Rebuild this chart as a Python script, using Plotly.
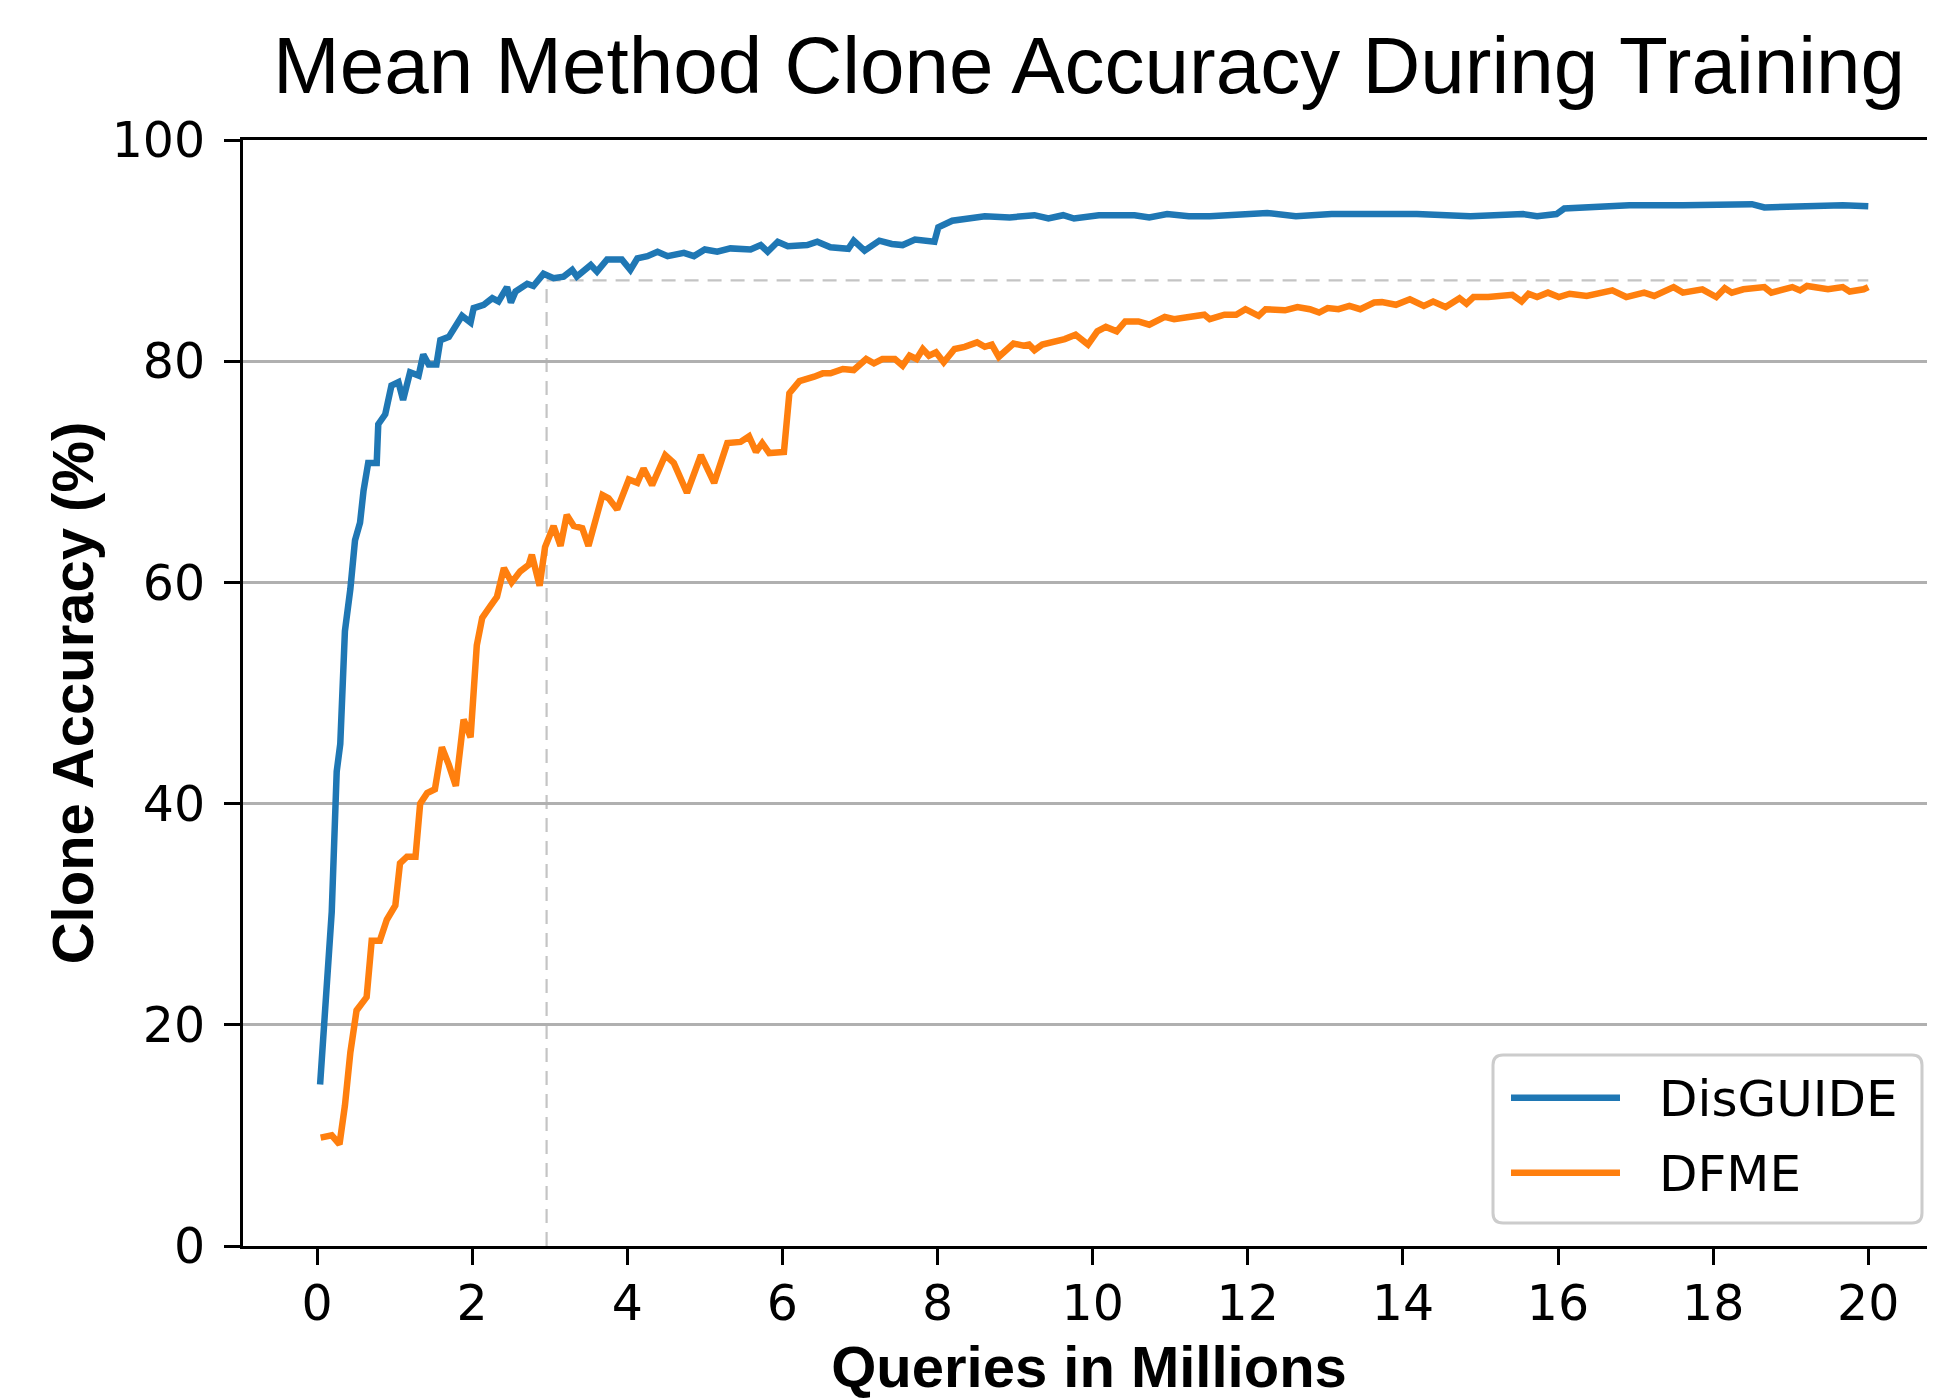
import plotly.graph_objects as go

# ---------------- data ----------------
disguide_x = [0.04, 0.125, 0.19, 0.254, 0.30, 0.36, 0.43, 0.49, 0.555, 0.60, 0.66, 0.77, 0.79, 0.88, 0.96,
              1.05, 1.11, 1.20, 1.31, 1.37, 1.44, 1.54, 1.59, 1.70, 1.78, 1.87, 1.98, 2.02, 2.15, 2.26, 2.34,
              2.45, 2.50, 2.56, 2.71, 2.79, 2.92, 3.05, 3.18, 3.29, 3.35, 3.53, 3.61, 3.74, 3.93, 4.04, 4.13,
              4.26, 4.39, 4.52, 4.73, 4.86, 5.0, 5.16, 5.33, 5.59, 5.72, 5.81, 5.94, 6.07, 6.32, 6.45, 6.62,
              6.85, 6.92, 7.06, 7.25, 7.41, 7.55, 7.71, 7.96, 8.01, 8.19, 8.61, 8.93, 9.25, 9.43, 9.62, 9.76,
              10.08, 10.54, 10.73, 10.96, 11.24, 11.51, 11.97, 12.25, 12.62, 13.08, 13.54, 14.18, 14.87, 15.32,
              15.55, 15.73, 15.98, 16.08, 16.47, 16.92, 17.61, 18.29, 18.50, 18.66, 19.21, 19.67, 20.0]
disguide_y = [14.6, 23.8, 30.2, 42.9, 45.4, 55.6, 59.4, 63.8, 65.4, 68.3, 70.8, 70.8, 74.3, 75.2, 77.8,
              78.1, 76.5, 79.0, 78.7, 80.6, 79.7, 79.7, 81.9, 82.2, 83.2, 84.1, 83.5, 84.8, 85.1, 85.7, 85.4,
              86.7, 85.3, 86.3, 87.0, 86.8, 87.9, 87.5, 87.65, 88.25, 87.65, 88.7, 88.1, 89.2, 89.2, 88.25, 89.3,
              89.5, 89.9, 89.5, 89.8, 89.5, 90.1, 89.9, 90.2, 90.1, 90.5, 89.9, 90.8, 90.4, 90.5, 90.8, 90.3,
              90.16, 90.9, 90.0, 90.9, 90.6, 90.5, 91.0, 90.8, 92.1, 92.7, 93.1, 93.0, 93.2, 92.9, 93.2, 92.9,
              93.2, 93.2, 93.0, 93.3, 93.1, 93.1, 93.3, 93.4, 93.1, 93.3, 93.3, 93.3, 93.1, 93.3,
              93.3, 93.1, 93.3, 93.8, 93.9, 94.1, 94.1, 94.1, 94.2, 93.9, 94.05, 94.1, 94.0]

dfme_x = [0.047, 0.19, 0.29, 0.36, 0.43, 0.51, 0.64, 0.705, 0.81, 0.90, 1.01, 1.07, 1.16, 1.27, 1.33, 1.42,
          1.52, 1.61, 1.70, 1.79, 1.89, 1.98, 2.06, 2.13, 2.23, 2.32, 2.41, 2.51, 2.62, 2.73, 2.77, 2.87, 2.94,
          3.05, 3.14, 3.22, 3.31, 3.42, 3.50, 3.68, 3.76, 3.87, 4.02, 4.13, 4.21, 4.32, 4.49, 4.60, 4.77, 4.95,
          5.12, 5.29, 5.46, 5.57, 5.66, 5.74, 5.83, 6.02, 6.09, 6.22, 6.41, 6.52, 6.62, 6.78, 6.92, 7.08, 7.18,
          7.29, 7.45, 7.55, 7.64, 7.73, 7.81, 7.89, 7.98, 8.08, 8.22, 8.35, 8.51, 8.61, 8.70, 8.79, 8.98, 9.11,
          9.18, 9.25, 9.35, 9.53, 9.64, 9.78, 9.94, 10.06, 10.17, 10.31, 10.42, 10.59, 10.73, 10.93, 11.05,
          11.24, 11.44, 11.51, 11.70, 11.85, 11.97, 12.14, 12.23, 12.48, 12.64, 12.80, 12.92, 13.03, 13.17,
          13.31, 13.45, 13.63, 13.73, 13.91, 14.09, 14.27, 14.39, 14.55, 14.73, 14.82, 14.91, 15.10, 15.41,
          15.53, 15.62, 15.73, 15.87, 16.01, 16.15, 16.37, 16.56, 16.70, 16.88, 17.11, 17.24, 17.38, 17.49,
          17.61, 17.74, 17.86, 18.04, 18.15, 18.24, 18.39, 18.66, 18.75, 19.02, 19.12, 19.21, 19.48, 19.67,
          19.76, 19.94, 20.0]
dfme_y = [9.8, 10.0, 9.2, 12.7, 17.5, 21.3, 22.5, 27.6, 27.6, 29.5, 30.8, 34.6, 35.2, 35.2, 40.0, 40.95,
          41.3, 45.1, 43.5, 41.6, 47.6, 46.0, 54.3, 56.8, 57.8, 58.7, 61.3, 60.0, 61.0, 61.6, 62.5, 59.7, 63.2,
          65.1, 63.3, 66.1, 65.1, 64.9, 63.3, 67.9, 67.6, 66.6, 69.3, 69.0, 70.3, 68.8, 71.5, 70.8, 68.1, 71.5,
          69.0, 72.6, 72.7, 73.2, 71.8, 72.6, 71.7, 71.8, 77.1, 78.2, 78.6, 78.9, 78.9, 79.3, 79.2, 80.2, 79.8,
          80.2, 80.2, 79.6, 80.5, 80.2, 81.1, 80.5, 80.8, 79.9, 81.1, 81.3, 81.7, 81.3, 81.5, 80.4, 81.6, 81.4,
          81.5, 81.0, 81.5, 81.8, 82.0, 82.4, 81.5, 82.7, 83.1, 82.7, 83.6, 83.6, 83.3, 84.0, 83.8,
          84.0, 84.2, 83.8, 84.2, 84.2, 84.7, 84.1, 84.7, 84.6, 84.9, 84.7, 84.4, 84.8, 84.7,
          85.0, 84.7, 85.3, 85.34, 85.1, 85.6, 85.0, 85.4, 84.9, 85.7, 85.2, 85.8, 85.8, 86.0,
          85.4, 86.1, 85.8, 86.2, 85.8, 86.1, 85.9, 86.2, 86.4, 85.8, 86.2, 85.9, 86.4, 86.7,
          86.2, 86.4, 86.5, 85.8, 86.6, 86.2, 86.5, 86.7, 86.2, 86.7, 86.4, 86.8, 86.5, 86.7,
          86.3, 86.5, 86.7]

series_names = ["DisGUIDE", "DFME"]
series_colors = ["#1f77b4", "#ff7f0e"]

# reference marker (dashed guide lines)
ref_x = 2.96
ref_y = 87.3
ref_x_end = 20.0

x_ticks = [0, 2, 4, 6, 8, 10, 12, 14, 16, 18, 20]
y_ticks = [0, 20, 40, 60, 80, 100]

title_text = "Mean Method Clone Accuracy During Training"
x_title = "Queries in Millions"
y_title = "Clone Accuracy (%)"

# ---------------- figure ----------------
OFF = 8  # page body margin
W, H = 1935 - OFF, 1399 - OFF
ML, MR, MT = 243 - OFF, 0, 140 - OFF
MB = H - (1246 - OFF)

fig = go.Figure()
for xs, ys, name, color in [(disguide_x, disguide_y, series_names[0], series_colors[0]),
                            (dfme_x, dfme_y, series_names[1], series_colors[1])]:
    fig.add_trace(go.Scatter(x=xs, y=ys, mode="lines", name=name,
                             line=dict(color=color, width=6.5), showlegend=False))

# dashed guide lines
guide = dict(color="#c4c4c4", width=2.2, dash="14px,9px")
fig.add_shape(type="line", xref="x", yref="y", x0=ref_x, x1=ref_x, y0=0, y1=ref_y, line=guide, layer="below")
fig.add_shape(type="line", xref="x", yref="y", x0=ref_x, x1=ref_x_end, y0=ref_y, y1=ref_y, line=guide, layer="below")

# ---------------- legend (matplotlib style) ----------------
pw, ph = W - ML - MR, H - MT - MB
def px2paper(px, py):
    return (px - OFF - ML) / pw, (H - MB - (py - OFF)) / ph

bx0, by1 = px2paper(1493, 1055)
bx1, by0 = px2paper(1922, 1223)
rx, ry = 10 / pw, 10 / ph
path = (f"M {bx0+rx},{by0} L {bx1-rx},{by0} Q {bx1},{by0} {bx1},{by0+ry} "
        f"L {bx1},{by1-ry} Q {bx1},{by1} {bx1-rx},{by1} L {bx0+rx},{by1} "
        f"Q {bx0},{by1} {bx0},{by1-ry} L {bx0},{by0+ry} Q {bx0},{by0} {bx0+rx},{by0} Z")
fig.add_shape(type="path", xref="paper", yref="paper", path=path,
              line=dict(color="#cccccc", width=3), fillcolor="rgba(255,255,255,0.85)", layer="above")
rows_py = [1097.7, 1172.7]
for name, color, rpy in zip(series_names, series_colors, rows_py):
    lx0, ly = px2paper(1511, rpy)
    lx1, _ = px2paper(1620, rpy)
    fig.add_shape(type="line", xref="paper", yref="paper", x0=lx0, x1=lx1, y0=ly, y1=ly,
                  line=dict(color=color, width=6.5), layer="above")
    tx, ty = px2paper(1657, rpy + 1)
    fig.add_annotation(xref="paper", yref="paper", x=tx, y=ty, text=name, showarrow=False,
                       xanchor="left", yanchor="middle",
                       font=dict(family="DejaVu Sans", size=50, color="black"))

axis_common = dict(showline=True, linecolor="black", linewidth=3, ticks="outside", ticklen=16,
                   tickwidth=3, tickcolor="black", zeroline=False, automargin=False,
                   tickfont=dict(family="DejaVu Sans", size=49, color="black"))

fig.update_layout(
    width=W, height=H,
    margin=dict(l=ML, r=MR, t=MT, b=MB, pad=0, autoexpand=False),
    paper_bgcolor="white", plot_bgcolor="white",
    showlegend=False,
    title=dict(text=title_text, x=1081 / W, xanchor="center", xref="container",
               y=1 - 29 / H, yanchor="top", yref="container", automargin=False,
               font=dict(family="Liberation Sans", size=80, color="black")),
    xaxis=dict(range=[-0.954, 20.86], tickvals=x_ticks, showgrid=False, mirror=True,
               ticklabelstandoff=-4,
               title=dict(text=f"<b>{x_title}</b>", standoff=18,
                          font=dict(family="Liberation Sans", size=58, color="black")),
               **axis_common),
    yaxis=dict(range=[0, 100], tickvals=y_ticks, showgrid=True, gridcolor="#b0b0b0", gridwidth=2.5,
               ticklabelstandoff=9,
               title=dict(text=f"<b>{y_title}</b>", standoff=0,
                          font=dict(family="Liberation Sans", size=58, color="black")),
               **axis_common),
)

fig.write_html("out.html")
